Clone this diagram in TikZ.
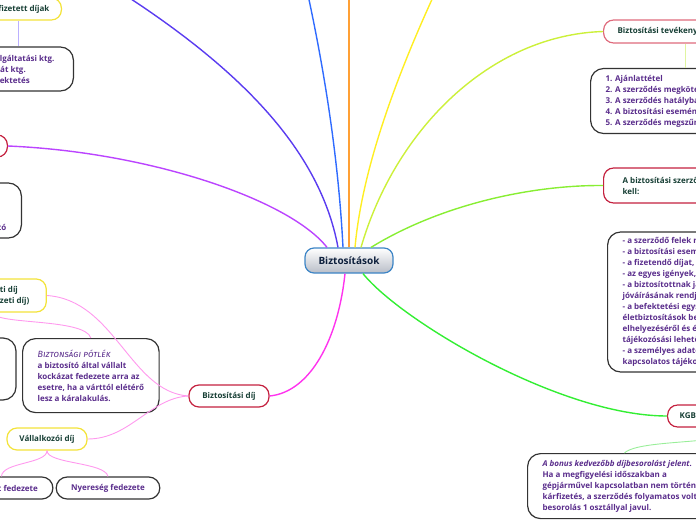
\documentclass[tikz,border=0pt]{standalone}
\usepackage{fontspec}
\setmainfont{Open Sans}
\newfontfamily\sketchfont[Letters=SmallCaps]{Fira Sans}
\usepackage{tikz}

\definecolor{titlegreen}{HTML}{173F35}
\definecolor{notepurple}{HTML}{5A2D8C}
\definecolor{nodered}{HTML}{C4213F}
\definecolor{nodepink}{HTML}{DF6A7C}
\definecolor{nodeyellow}{HTML}{F3E33A}
\definecolor{boxgray}{HTML}{333333}
\definecolor{hubblue}{HTML}{3D85C6}
\definecolor{hubtext}{HTML}{0D1F3C}
\definecolor{hubgray}{HTML}{B9BEC8}
\definecolor{cblueviolet}{HTML}{5A3CF0}
\definecolor{cblue}{HTML}{2F6BFF}
\definecolor{corange}{HTML}{FFA035}
\definecolor{cyellow}{HTML}{FFEE22}
\definecolor{cyelgreen}{HTML}{CCF03A}
\definecolor{clgreen}{HTML}{88EE33}
\definecolor{cgreen}{HTML}{33EE33}
\definecolor{cmagenta}{HTML}{FF33EE}
\definecolor{cviolet}{HTML}{BB44FF}
\definecolor{cpink}{HTML}{FF99EE}
\definecolor{clavender}{HTML}{BBB0FF}
\definecolor{cteal}{HTML}{E0F5A0}
\definecolor{ckgb}{HTML}{99EE99}

\begin{document}
\begin{tikzpicture}[x=1pt, y=-1pt,
  hub/.style={draw=hubblue, line width=1.2pt, rounded corners=9pt, top color=white, bottom color=hubgray,
    minimum width=88pt, minimum height=25pt, text=hubtext, font=\fontsize{10}{12}\selectfont\bfseries},
  topic/.style={draw, fill=white, line width=1.2pt, rounded corners=10pt, minimum height=22pt,
    inner xsep=12pt, inner ysep=2pt, text=titlegreen, font=\fontsize{8}{11}\selectfont\bfseries},
  topicred/.style={topic, draw=nodered},
  topicyellow/.style={topic, draw=nodeyellow},
  note/.style={draw=boxgray, fill=white, line width=1.2pt, rounded corners=13pt, inner xsep=15pt,
    inner ysep=3pt, text=notepurple, align=left, font=\fontsize{8}{11}\selectfont\bfseries},
  branch/.style={line width=1.4pt},
  twig/.style={line width=0.9pt}]

\useasboundingbox (0,0) rectangle (696,520);
\clip (0,0) rectangle (696,520);

% centre and first level
\node[hub] (hub) at (349,260.5) {Biztosítások};
\node[topicred, minimum width=80pt] (dij) at (229,396) {Biztosítási díj};
\node[topicred, anchor=east] (szereplok) at (8,146) {Szereplők};
\node[topic, draw=nodepink, anchor=west, minimum height=23pt, inner xsep=14pt] (tevek) at (603,31.5) {Biztosítási tevékenység};
\node[topicred, anchor=west, align=left, minimum height=35pt, inner xsep=19pt] (tartalom) at (603,185.5) {A biztosítási szerződésnek tartalmaznia\\kell:};
\node[topicred, anchor=west, text width=120pt] (kgb) at (667,416) {KGB};

% left side
\node[topicyellow, anchor=east] (befiz) at (62,9) {Befizetett díjak};
\node[note, anchor=east, minimum height=44pt, inner xsep=19pt] (koltseg) at (74,69) {Szolgáltatási ktg.\\Kárát ktg.\\Befektetés};
\node[note, anchor=east, minimum height=55pt] (lbox2) at (22,210.5) {Felek:\\ügyfél\\alkusz\\a biztosító};
\node[topicyellow, align=center, minimum height=33pt, inner xsep=17pt] (nettodij) at (-7.5,295.5) {Kockázati díj\\(nettó fedezeti díj)};
\node[note, minimum width=132pt, minimum height=62pt] (lbox1) at (-50,369) {};
\node[note, anchor=north west, minimum width=135pt, minimum height=74pt] (potlek) at (22,338)
  {{\sketchfont\mdseries\itshape\fontsize{9}{12}\selectfont Biztonsági pótlék}\\a biztosító által vállalt\\kockázat fedezete arra az\\esetre, ha a várttól elétérő\\lesz a káralakulás.};
\node[topicyellow, minimum width=80pt] (vallalk) at (47,439) {Vállalkozói díj};
\node[note, rounded corners=11pt, minimum height=22pt, minimum width=99pt] (nyereseg) at (108,488) {Nyereség fedezete};
\node[note, rounded corners=11pt, minimum height=22pt, minimum width=101pt] (kockfed) at (1.5,488) {Kockázat fedezete};

% right side
\node[note, anchor=west, minimum height=65pt] (lista) at (590,101) {1. Ajánlattétel\\2. A szerződés megkötése\\3. A szerződés hatályba lépése\\4. A biztosítási esemény bekövetkezése\\5. A szerződés megszűnése};
\node[note, anchor=west, minimum height=140pt] (elemek) at (607,302)
  {- a szerződő felek nevét, címét\\- a biztosítási eseményt\\- a fizetendő díjat,\\- az egyes igények,\\- a biztosítottnak járó összeg\\jóváírásának rendjét\\- a befektetési egységekhez kötött\\életbiztosítások befektetéseinek\\elhelyezéséről és értékéről szóló\\tájékozósási lehetőségeket\\- a személyes adatok kezelésével\\kapcsolatos tájékoztatást};
\node[note, anchor=north west, minimum height=65pt] (bonus) at (527,453)
  {\textit{A bonus kedvezőbb díjbesorolást jelent.}\\Ha a megfigyelési időszakban a\\gépjárművel kapcsolatban nem történt\\kárfizetés, a szerződés folyamatos volt, a\\besorolás 1 osztállyal javul.};

\coordinate (tl) at (125,-5);
\coordinate (tb) at (308,-5);
\coordinate (to) at (349,-5);
\coordinate (ty) at (434,-5);
\coordinate (tevx) at (685,0);

% branches from the centre
\draw[branch, cviolet] ([xshift=-22pt]hub.north) .. controls (290,200) and (150,152) .. (szereplok.east);
\draw[branch, cblueviolet] ([xshift=-11pt]hub.north) .. controls (320,150) and (240,70) .. (tl);
\draw[branch, cblue] ([xshift=-6pt]hub.north) .. controls (338,150) and (322,60) .. (tb);
\draw[branch, corange] (hub.north) -- (to);
\draw[branch, cyellow] ([xshift=6pt]hub.north) .. controls (362,170) and (395,80) .. (ty);
\draw[branch, cyelgreen] ([xshift=12pt]hub.north) .. controls (395,130) and (490,35) .. (tevek.west);
\draw[branch, clgreen] ([xshift=22pt]hub.north) .. controls (440,205) and (530,185) .. (tartalom.west);
\draw[branch, cgreen] ([xshift=14pt]hub.south) .. controls (400,320) and (560,416) .. (kgb.west);
\draw[branch, cmagenta] ([xshift=-4pt]hub.south) .. controls (338,340) and (310,392) .. (dij.east);

% sub branches
\draw[twig, cpink] (dij.west) .. controls (130,392) and (115,300) .. (nettodij.east);
\draw[twig, cpink] (dij.west) .. controls (150,398) and (130,439) .. (vallalk.east);
\draw[twig, cpink] (nettodij.south) .. controls (-5,325) and (85,318) .. (potlek.north);
\draw[twig, cpink] (nettodij.south) .. controls (-10,325) and (-50,322) .. (lbox1.north);
\draw[twig, cpink] (vallalk.south) .. controls (47,464) and (105,462) .. (nyereseg.north);
\draw[twig, cpink] (vallalk.south) .. controls (47,464) and (2,462) .. (kockfed.north);
\draw[twig, clavender] (befiz.south) -- (befiz.south |- koltseg.north);
\draw[twig, cteal] (tevek.south -| tevx) -- (lista.north -| tevx);
\draw[twig, ckgb] (kgb.south) .. controls +(0,18) and (640,438) .. (bonus.north);

\end{tikzpicture}
\end{document}
